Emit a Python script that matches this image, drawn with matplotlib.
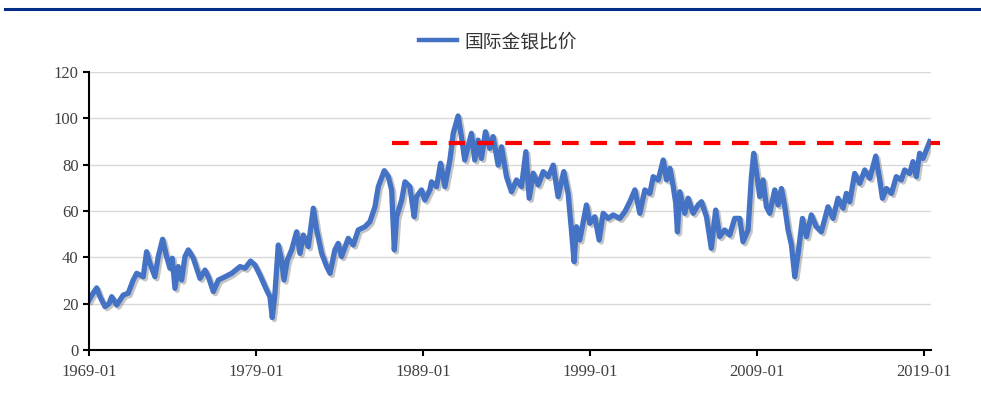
import matplotlib.pyplot as plt
import matplotlib.patheffects as pe
from matplotlib.lines import Line2D

plt.rcParams['font.family'] = ['Liberation Serif', 'Noto Sans CJK SC', 'DejaVu Sans']

# gold/silver ratio (decimal years)
years = [1969.0, 1969.2, 1969.46, 1969.66, 1969.96, 1970.2, 1970.36, 1970.66, 1971.05, 1971.35,
         1971.65, 1971.86, 1972.25, 1972.45, 1972.65, 1972.95, 1973.15, 1973.41, 1973.65, 1973.85,
         1973.99, 1974.15, 1974.35, 1974.55, 1974.75, 1974.95, 1975.25, 1975.65, 1975.95, 1976.15,
         1976.45, 1976.75, 1977.15, 1977.55, 1978.05, 1978.35, 1978.68, 1978.94, 1979.24, 1979.64,
         1979.84, 1979.98, 1980.14, 1980.34, 1980.54, 1980.68, 1980.88, 1981.14, 1981.44, 1981.64,
         1981.84, 1982.14, 1982.44, 1982.64, 1982.94, 1983.24, 1983.44, 1983.73, 1983.93, 1984.13,
         1984.53, 1984.83, 1985.13, 1985.53, 1985.83, 1986.13, 1986.33, 1986.69, 1986.93, 1987.13,
         1987.29, 1987.43, 1987.73, 1987.93, 1988.22, 1988.48, 1988.62, 1988.92, 1989.12, 1989.42,
         1989.52, 1989.82, 1990.06, 1990.32, 1990.62, 1990.82, 1991.11, 1991.31, 1991.51, 1991.91,
         1992.11, 1992.31, 1992.51, 1992.75, 1993.01, 1993.21, 1993.51, 1993.71, 1994.01, 1994.31,
         1994.61, 1994.91, 1995.17, 1995.37, 1995.61, 1995.91, 1996.21, 1996.51, 1996.81, 1997.1,
         1997.44, 1997.7, 1997.9, 1998.06, 1998.2, 1998.4, 1998.8, 1999.0, 1999.3, 1999.56,
         1999.8, 2000.1, 2000.4, 2000.8, 2001.1, 2001.4, 2001.7, 2002.0, 2002.3, 2002.6,
         2002.8, 2003.1, 2003.4, 2003.6, 2003.8, 2004.0, 2004.15, 2004.25, 2004.39, 2004.69,
         2004.89, 2005.19, 2005.49, 2005.69, 2005.99, 2006.28, 2006.54, 2006.78, 2007.08, 2007.38,
         2007.68, 2007.98, 2008.18, 2008.48, 2008.68, 2008.82, 2008.98, 2009.18, 2009.38, 2009.58,
         2009.78, 2010.08, 2010.28, 2010.48, 2010.68, 2010.88, 2011.08, 2011.28, 2011.48, 2011.74,
         2011.98, 2012.27, 2012.57, 2012.87, 2013.27, 2013.57, 2013.87, 2014.17, 2014.37, 2014.57,
         2014.87, 2015.17, 2015.47, 2015.77, 2016.13, 2016.37, 2016.53, 2016.77, 2017.07, 2017.36,
         2017.66, 2017.86, 2018.16, 2018.36, 2018.56, 2018.76, 2018.96, 2019.16, 2019.36]
ratio = [21.5, 24, 26.8, 23, 18.7, 20, 23, 19.4, 23.7, 24.5,
         30.2, 33.1, 31.6, 42.4, 37.4, 31.6, 40.3, 47.8, 40.3, 35.3,
         39.6, 26.6, 36, 30.2, 40.3, 43.2, 39.6, 30.9, 34.5, 31.6,
         25.2, 30.2, 31.6, 33.1, 36, 35.3, 38.4, 36.7, 32.4, 25.9,
         23, 14, 24.5, 45.3, 38.8, 30.2, 38.8, 43.2, 51, 41.7,
         49.6, 44.6, 61.2, 51.8, 41.7, 36, 33.1, 43.2, 46, 40.3,
         48.2, 45.3, 51.8, 53.2, 55.4, 61.8, 70.5, 77.4, 74.8, 69.1,
         43.2, 57.5, 64.7, 72.6, 70.5, 57.5, 66.2, 69.1, 64.7, 69.1,
         72.6, 70.5, 80.6, 70.5, 82, 93.5, 101, 92.1, 82, 93.5,
         82, 90.6, 82.7, 94.2, 87, 92.1, 79.8, 87.7, 74.8, 68.3,
         73.4, 70.5, 85.6, 65.5, 76.3, 71.2, 77, 74.8, 79.8, 66.2,
         77, 67.6, 51.8, 38.1, 53.2, 47.5, 62.6, 54.7, 57.5, 47.5,
         59, 56.8, 58.3, 56.8, 59.7, 64, 69.1, 59, 69.1, 67.6,
         74.8, 73.4, 82, 73.4, 78.4, 70.5, 63.3, 51, 68.3, 59,
         65.5, 59, 62.6, 64, 57.5, 43.9, 60.4, 48.9, 51.8, 49.6,
         56.8, 56.8, 46.7, 51.8, 74.8, 84.9, 77, 66.2, 73.4, 61.8,
         59, 69.1, 62.6, 69.7, 61.8, 51.8, 45.3, 31.6, 41.7, 56.8,
         48.9, 58.3, 53.2, 51, 61.8, 56.8, 65.5, 61.2, 67.6, 64,
         76.2, 71.9, 77.7, 74.1, 83.7, 73.4, 65.5, 69.7, 67.6, 74.8,
         73.4, 77.7, 76.2, 81.3, 74.8, 84.9, 82.7, 86.3, 89.9]

ref_level = 89.3
ref_span = [1987.14, 2019.96]

tick_years = [1969, 1979, 1989, 1999, 2009, 2019]
tick_labels = ['1969-01', '1979-01', '1989-01', '1999-01', '2009-01', '2019-01']

fig = plt.figure(figsize=(9.81, 3.96), dpi=100)
ax = fig.add_axes([0.0907, 0.1162, 0.858, 0.702])

ax.plot(years, ratio, color='#4472C4', lw=3.8, solid_joinstyle='round',
        path_effects=[pe.SimpleLineShadow(offset=(1.5, -1.5), shadow_color='gray', alpha=0.45),
                      pe.Normal()])
ax.plot(ref_span, [ref_level, ref_level], color='#FF0000', lw=3, dashes=(4, 2.8),
        dash_capstyle='butt', clip_on=False)

ax.set_xlim(1969.0, 2019.42)
ax.set_ylim(0, 120)
ax.set_yticks(range(0, 121, 20))
ax.set_xticks(tick_years)
ax.set_xticklabels(tick_labels)
ax.yaxis.grid(True, color='#D9D9D9', lw=1)
ax.set_axisbelow(True)
for s in ['top', 'right']:
    ax.spines[s].set_visible(False)
for s in ['left', 'bottom']:
    ax.spines[s].set_linewidth(1.5)
    ax.spines[s].set_color('black')
ax.tick_params(axis='both', labelsize=12, colors='#404040', length=4, width=1.5)
ax.tick_params(axis='both', color='black')
ax.tick_params(axis='x', pad=6)

handle = Line2D([], [], color='#4472C4', lw=3.2)
ax.legend([handle], ['国际金银比价'], loc='center', bbox_to_anchor=(0.486, 1.11),
          frameon=False, handlelength=2.0, handletextpad=0.4,
          prop={'family': ['Noto Sans CJK SC'], 'size': 13.5}, labelcolor='#333333')

# rule along the top edge
fig.add_artist(Line2D([0.005, 1.0], [0.977, 0.977], color='#002D86', lw=2.2))

fig.savefig('out.png', dpi=100)
